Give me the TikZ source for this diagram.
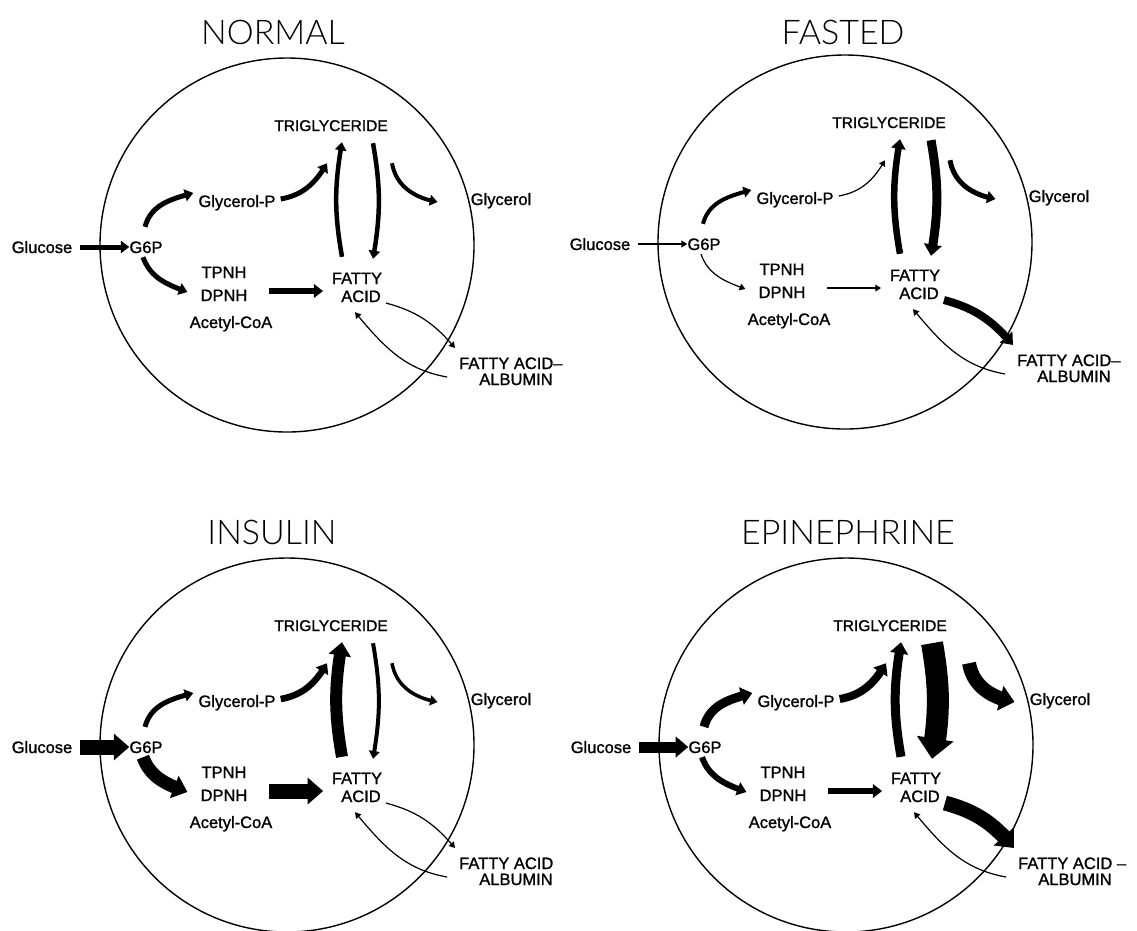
\documentclass[tikz,border=0pt]{standalone}
\usepackage{fontspec}
\usetikzlibrary{arrows.meta,bending}
\newfontfamily\labfont[FakeBold=1.2]{Liberation Sans}
\IfFontExistsTF{Lato Light}{\newfontfamily\ttlfont{Lato Light}}{\newfontfamily\ttlfont{Liberation Sans}}
\tikzset{
  lab/.style={font=\labfont\fontsize{16.5}{18}\selectfont, inner sep=0pt, text height=12pt, text depth=0pt},
  ttl/.style={font=\ttlfont\fontsize{34}{36}\selectfont, inner sep=0pt},
  cell/.style={line width=1.4pt},
  flux/.style={line width=#1, -{Triangle[length=5pt 0.7, width=5pt 1.4]}},
}
\newcommand\setflux[9]{\def\fA{#1}\def\fB{#2}\def\fC{#3}\def\fD{#4}\def\fE{#5}\def\fF{#6}\def\fG{#7}\def\fH{#8}\def\fI{#9}}
\def\gx{0}
% #1 shift, #2 title position, #3 title, #4 fatty acid label, #5 name prefix
\newcommand\fapanel[5]{%
\begin{scope}[shift={#1}, name prefix=#5-]
  \draw[cell] (287,245) circle[radius=187pt];
  \node[ttl] (title) at #2 {#3};
  \node[lab] (glu) at (42,247) {Glucose};
  \node[lab] (g6p) at (146,247) {G6P};
  \node[lab] (glyp) at (237,201) {Glycerol-P};
  \node[lab, font=\labfont\fontsize{15.5}{17}\selectfont] (tg) at (331,125) {TRIGLYCERIDE};
  \node[lab] (gly) at (501,199) {Glycerol};
  \node[lab] (tpnh) at (224,272) {TPNH};
  \node[lab] (dpnh) at (224,295) {DPNH};
  \node[lab] (acoa) at (231,322) {Acetyl-CoA};
  \node[lab] (fatty) at (357,278) {FATTY};
  \node[lab] (acid) at (361,296) {ACID};
  \node[lab, anchor=west] (faa) at (459,363) {#4};
  \node[lab] (alb) at (516,379) {ALBUMIN};
  \draw[flux=\fA] ([xshift=8pt]glu.east) -- (g6p.west);
  \draw[flux=\fB] ([shift={(-1,-14)}]g6p.north) to[out=75,in=195] ([shift={(-5,-8)}]glyp.west);
  \draw[flux=\fC] ([shift={(-3,4)}]g6p.south) to[out=-70,in=160] ([shift={(-13,-3)}]dpnh.west);
  \draw[flux=\fD] ([shift={(5,-2)}]glyp.east) to[out=10,in=-120] ([shift={(-4,32)}]tg.south);
  \draw[flux=\fE] ([shift={(-15,-15)}]fatty.north) to[out=100,in=-100] ([shift={(11,11)}]tg.south);
  \draw[flux=\fF] ([shift={(42,12)}]tg.south) to[out=-80,in=80] ([shift={(16,-13)}]fatty.north);
  \draw[flux=\fG] ([shift={(61+\gx,32)}]tg.south) to[out=-80,in=170] ([shift={(-33+\gx,3)}]gly.west);
  \draw[flux=\fH] ([shift={(21,-4)}]dpnh.east) -- ([shift={(-18,-5)}]acid.west);
  \draw[flux=\fI] ([shift={(5,7)}]acid.east) to[out=-15,in=130] ([shift={(-4,-15)}]faa.west);
  \draw[flux=1.2pt] ([shift={(-32,-2)}]alb.west) to[out=170,in=-50] ([shift={(-6,10)}]acid.south);
\end{scope}}
\begin{document}
\begin{tikzpicture}[x=1pt,y=-1pt]
  \useasboundingbox (0,0) rectangle (1137,930);
  \setflux{5pt}{5pt}{5pt}{5pt}{4.5pt}{4.5pt}{4pt}{6pt}{1.2pt}
  \fapanel{(0,0)}{(273,32)}{NORMAL}{FATTY ACID–}{n}
  \setflux{1.3pt}{4pt}{1.2pt}{1.2pt}{6.5pt}{9pt}{5pt}{1.2pt}{8pt}
  \fapanel{(558,-3)}{(285,35)}{FASTED}{FATTY ACID–}{f}
  \setflux{15pt}{5pt}{13pt}{6.5pt}{12pt}{4pt}{3.5pt}{15pt}{1.2pt}
  \fapanel{(0,500)}{(272,32)}{INSULIN}{FATTY ACID}{i}
  \def\gx{18}
  \setflux{11pt}{9pt}{6pt}{8pt}{9pt}{22pt}{14pt}{6pt}{15pt}
  \fapanel{(559,500)}{(289,32)}{EPINEPHRINE}{FATTY ACID –}{e}
\end{tikzpicture}
\end{document}
